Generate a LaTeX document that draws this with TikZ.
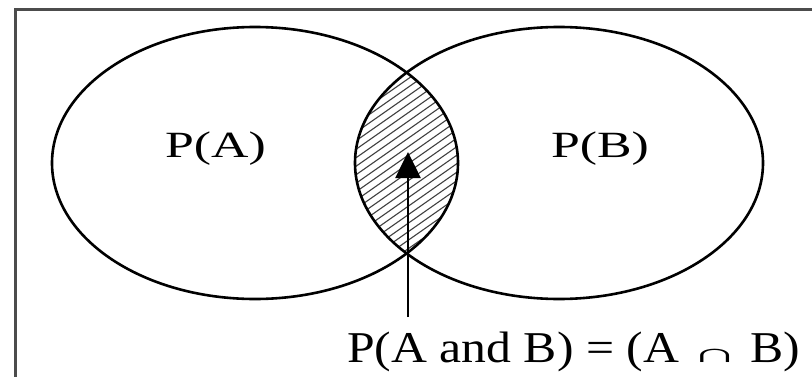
\documentclass[tikz,border=0pt]{standalone}
\usepackage{fontspec}
\setmainfont{Liberation Serif}
\usetikzlibrary{arrows.meta}
\begin{document}
\begin{tikzpicture}[x=1pt,y=1pt,
  setline/.style={line width=2.6pt, black},
  lbl/.style={inner sep=0pt, anchor=base},
  hatch/.style={line width=1.1pt, black!75}]
\clip (0,0) rectangle (812,376);
\fill[white] (0,0) rectangle (812,376);
% frame
\draw[line width=3pt, black!70] (15,-20) rectangle (840,366);
% hatching of the intersection
\begin{scope}
  \clip (255,213) ellipse [x radius=203, y radius=136];
  \clip (559,213) ellipse [x radius=204, y radius=136];
  \foreach \k in {-36,...,36}{
    \draw[hatch] (300,{213+\k*8.5}) -- ++(35:250);
  }
\end{scope}
% sets
\draw[setline] (255,213) ellipse [x radius=203, y radius=136];
\draw[setline] (559,213) ellipse [x radius=204, y radius=136];
% labels
\node[lbl] (pa) at (215.5,219) {\fontsize{37}{40}\selectfont\scalebox{1.4}[1]{P(A)}};
\node[lbl] (pb) at (600,219) {\fontsize{37}{40}\selectfont\scalebox{1.4}[1]{P(B)}};
\node[lbl, anchor=base west] (pab) at (347,14) {\fontsize{44}{48}\selectfont\scalebox{1.13}[1]{P(A and B) = (A \scalebox{1.3}[0.6]{∩} B)}};
% arrow
\coordinate (arrowstart) at (408,59);
\coordinate (arrowtip) at (408,224);
\draw[line width=2.6pt, black, -{Triangle[length=26pt,width=25pt]}] (arrowstart) -- (arrowtip);
\end{tikzpicture}
\end{document}
